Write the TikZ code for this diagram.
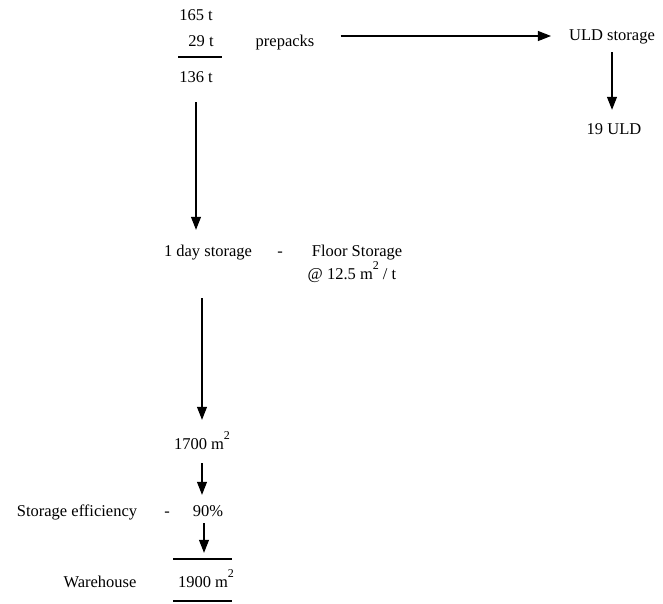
\documentclass[tikz,border=0pt]{standalone}
\usepackage{fontspec}
\setmainfont{Liberation Serif}
\usetikzlibrary{arrows.meta}
\newcommand{\sqm}{m\raisebox{0.55em}{\fontsize{12}{12}\selectfont 2}}
\begin{document}
\begin{tikzpicture}[x=1pt,y=-1pt,
  lbl/.style={inner sep=0pt,text height=12pt,text depth=4pt,font=\fontsize{16.5}{19}\selectfont},
  arr/.style={draw,line width=1.1pt,-{Triangle[length=13pt,width=10pt]}},
  rule/.style={draw,line width=1.1pt}]
\useasboundingbox (0,0) rectangle (663,603);
\node[lbl] (t165) at (196,16) {165 t};
\node[lbl] (t29) at (201,42) {29 t};
\node[lbl] (t136) at (196,78) {136 t};
\node[lbl] (prep) at (285,42) {prepacks};
\node[lbl] (uld) at (612,36) {ULD storage};
\node[lbl] (uld19) at (614,130) {19 ULD};
\node[lbl] (day) at (208,252) {1 day storage};
\node[lbl] (dash1) at (280,252) {-};
\node[lbl] (floor) at (357,252) {Floor Storage};
\node[lbl] (rate) at (352,275) {@ 12.5 \sqm{} / t};
\node[lbl] (a1700) at (202,445) {1700 \sqm};
\node[lbl] (eff) at (77,512) {Storage efficiency};
\node[lbl] (dash2) at (167,512) {-};
\node[lbl] (p90) at (208,512) {90\%};
\node[lbl] (wh) at (100,583) {Warehouse};
\node[lbl] (a1900) at (206,583) {1900 \sqm};
\path[rule] (178,57) -- (222,57);
\path[rule] (173,559) -- (232,559);
\path[rule] (173,601) -- (232,601);
\path[arr,shorten <=26pt,shorten >=18pt] (prep.east |- uld.west) -- (uld.west);
\path[arr,shorten <=8pt,shorten >=12pt] (uld.south) -- (uld.south |- uld19.north);
\path[arr,shorten <=16pt,shorten >=14pt] (t136.south) -- (t136.south |- day.north);
\path[arr,shorten <=38pt,shorten >=17pt] (day.south -| a1700.north) -- (a1700.north);
\path[arr,shorten <=10pt,shorten >=9pt] (a1700.south) -- (a1700.south |- p90.north);
\path[arr,shorten <=3pt,shorten >=22pt] ([xshift=2pt]a1700.south |- p90.south) -- ([xshift=2pt]a1700.south |- a1900.north);
\end{tikzpicture}
\end{document}
